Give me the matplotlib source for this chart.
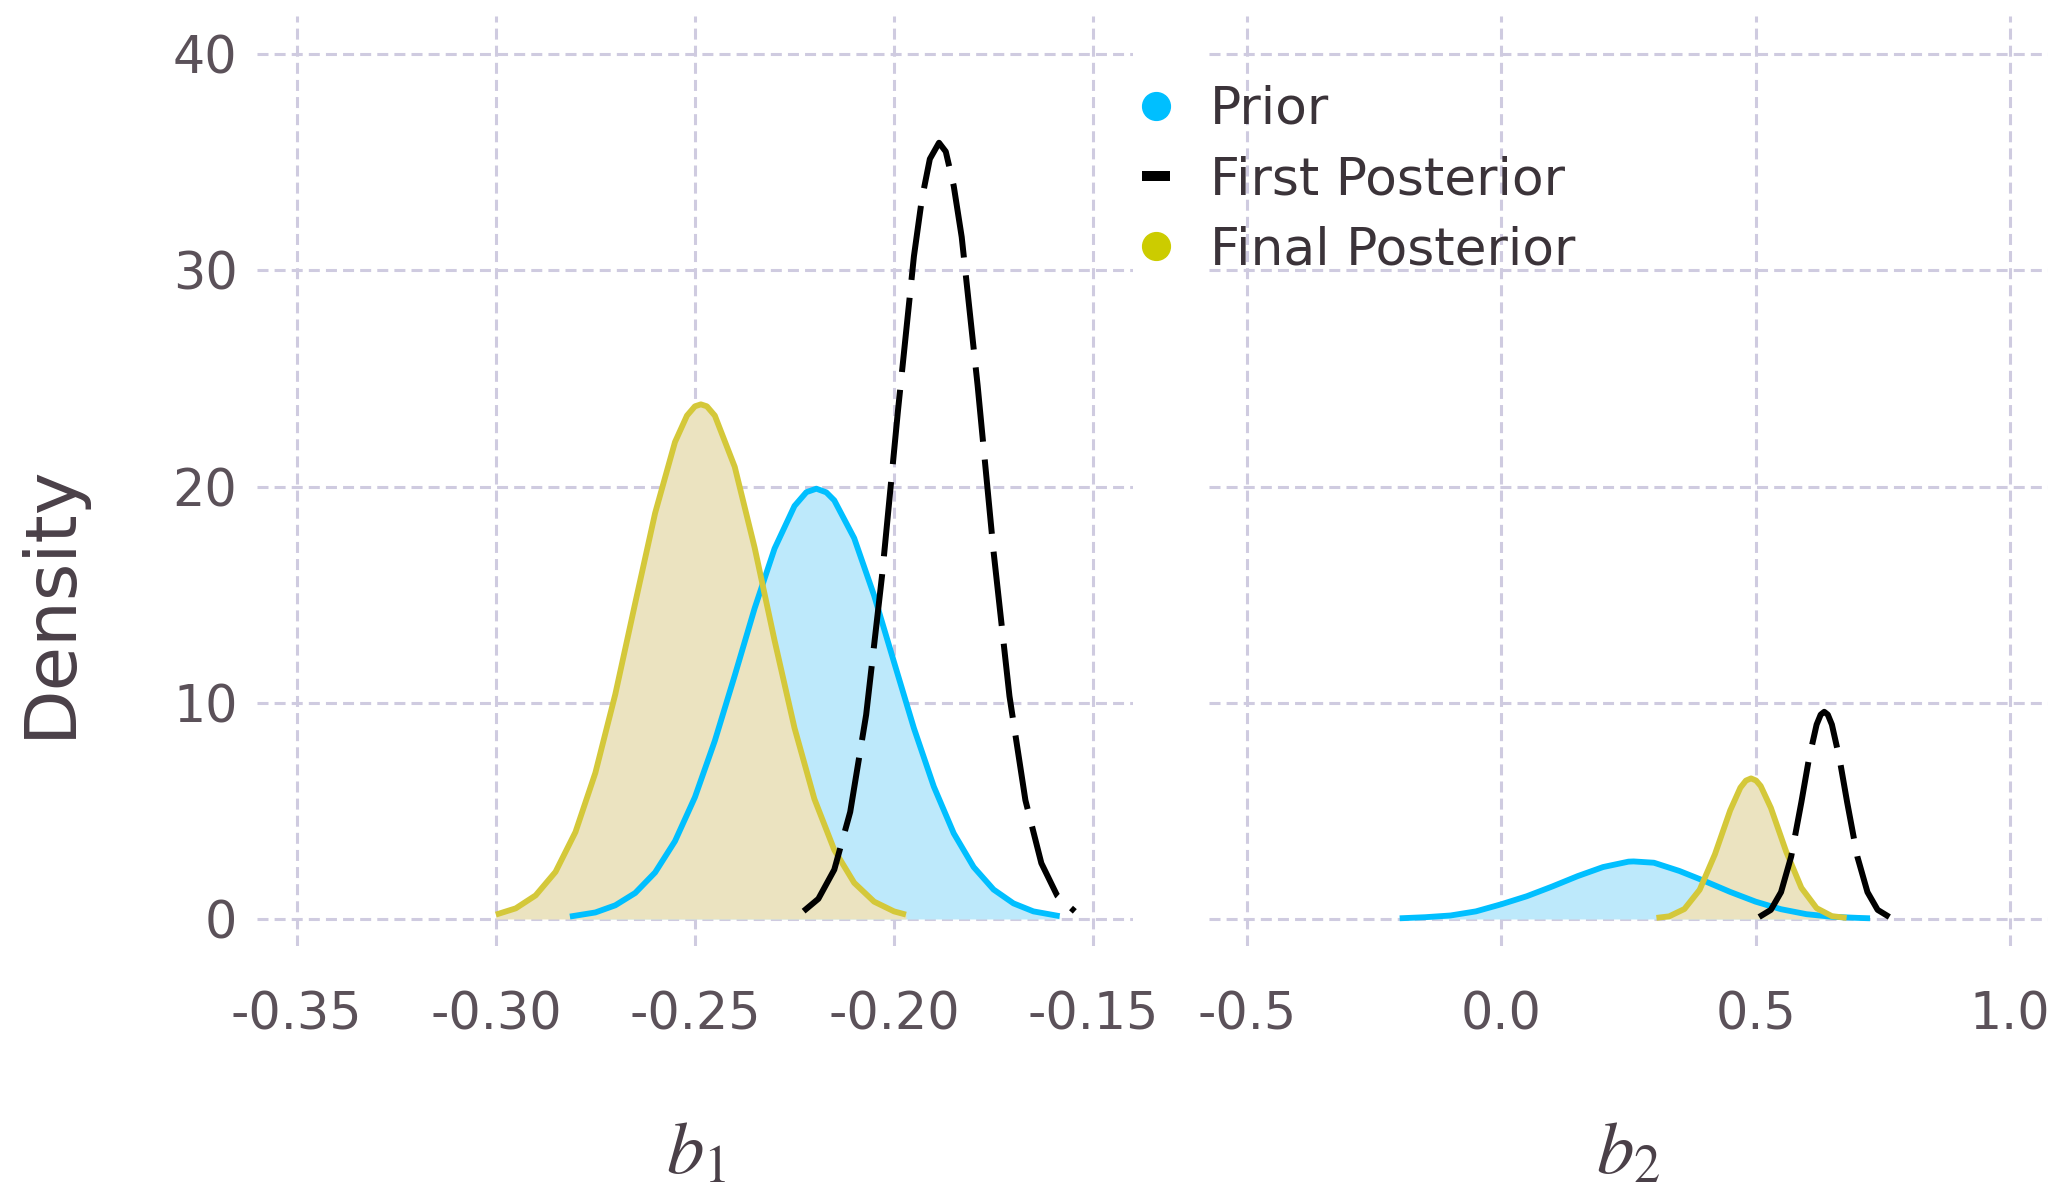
# coding=utf-8
import matplotlib
matplotlib.use("Agg")
import matplotlib.pyplot as plt
from matplotlib.lines import Line2D

# ---- data ----
# b1 panel
b1_prior_x = [-0.2814, -0.275, -0.27, -0.265, -0.26, -0.255, -0.25, -0.245, -0.24, -0.235, -0.23, -0.225,
              -0.222, -0.2195, -0.217, -0.215, -0.21, -0.205, -0.20, -0.195, -0.19, -0.185, -0.18, -0.175,
              -0.17, -0.165, -0.1584]
b1_prior_y = [0.11, 0.30, 0.63, 1.20, 2.15, 3.60, 5.63, 8.24, 11.26, 14.37, 17.13, 19.10,
              19.74, 19.90, 19.73, 19.36, 17.61, 14.96, 11.88, 8.82, 6.12, 3.96, 2.40, 1.36,
              0.72, 0.35, 0.13]

b1_first_x = [-0.2227, -0.219, -0.215, -0.211, -0.207, -0.203, -0.199, -0.195, -0.193, -0.191, -0.1887,
              -0.187, -0.185, -0.183, -0.179, -0.175, -0.171, -0.167, -0.163, -0.159, -0.1546]
b1_first_y = [0.36, 0.93, 2.28, 4.95, 9.44, 15.89, 23.52, 30.65, 33.30, 35.15, 35.90,
              35.49, 33.90, 31.54, 24.67, 16.99, 10.30, 5.49, 2.58, 1.07, 0.35]

b1_final_x = [-0.300, -0.295, -0.29, -0.285, -0.28, -0.275, -0.27, -0.265, -0.26, -0.255, -0.252, -0.25,
              -0.2485, -0.247, -0.245, -0.24, -0.235, -0.23, -0.225, -0.22, -0.215, -0.21, -0.205, -0.20, -0.197]
b1_final_y = [0.20, 0.49, 1.09, 2.18, 4.02, 6.76, 10.39, 14.61, 18.77, 22.06, 23.28, 23.71,
              23.80, 23.71, 23.28, 20.91, 17.17, 12.88, 8.84, 5.55, 3.19, 1.67, 0.80, 0.35, 0.20]

# b2 panel
b2_prior_x = [-0.20, -0.15, -0.10, -0.05, 0.00, 0.05, 0.10, 0.15, 0.20, 0.25, 0.26, 0.30, 0.35,
              0.40, 0.45, 0.50, 0.55, 0.60, 0.65, 0.70, 0.725]
b2_prior_y = [0.03, 0.08, 0.16, 0.35, 0.68, 1.05, 1.50, 1.98, 2.40, 2.65, 2.66, 2.60, 2.22,
              1.75, 1.25, 0.80, 0.45, 0.22, 0.10, 0.05, 0.03]

b2_first_x = [0.507, 0.53, 0.55, 0.57, 0.59, 0.605, 0.62, 0.628, 0.635, 0.642, 0.65, 0.665, 0.68,
              0.70, 0.72, 0.74, 0.763]
b2_first_y = [0.09, 0.42, 1.24, 2.89, 5.40, 7.42, 8.99, 9.45, 9.58, 9.45, 8.99, 7.42, 5.40,
              2.89, 1.24, 0.42, 0.09]

b2_final_x = [0.305, 0.33, 0.36, 0.39, 0.42, 0.45, 0.47, 0.481, 0.491, 0.501, 0.51, 0.53, 0.56,
              0.59, 0.62, 0.65, 0.679]
b2_final_y = [0.05, 0.12, 0.46, 1.35, 2.99, 5.02, 6.07, 6.40, 6.50, 6.40, 6.15, 5.14, 3.12,
              1.44, 0.50, 0.13, 0.05]

b1_ticks = [-0.35, -0.30, -0.25, -0.20, -0.15]
b1_labels = ["-0.35", "-0.30", "-0.25", "-0.20", "-0.15"]
b2_ticks = [-0.5, 0.0, 0.5, 1.0]
b2_labels = ["-0.5", "0.0", "0.5", "1.0"]
y_ticks = [0, 10, 20, 30, 40]
legend_labels = ["Prior", "First Posterior", "Final Posterior"]

# ---- style ----
plt.rcParams['font.family'] = ['DejaVu Sans']
plt.rcParams['axes.unicode_minus'] = False
plt.rcParams['mathtext.fontset'] = 'stix'

blue = '#00bfff'
blue_fill = '#bde9fb'
olive = '#d4c83a'
olive_fill = '#ebe3c0'
grid_col = '#cfcbe0'
tick_col = '#5b5159'

fig = plt.figure(figsize=(20.67, 11.89), dpi=100)
ax1 = fig.add_axes([0.1243, 0.2044, 0.4238, 0.7821])
ax2 = fig.add_axes([0.5849, 0.2044, 0.4059, 0.7821])

panels = [
    (ax1, b1_prior_x, b1_prior_y, b1_first_x, b1_first_y, b1_final_x, b1_final_y),
    (ax2, b2_prior_x, b2_prior_y, b2_first_x, b2_first_y, b2_final_x, b2_final_y),
]
for ax, px, py, fx, fy, lx, ly in panels:
    ax.fill_between(px, py, 0, color=blue_fill, lw=0, zorder=1)
    ax.fill_between(lx, ly, 0, color=olive_fill, lw=0, zorder=1.1)
    ax.plot(px, py, color=blue, lw=4.2, zorder=3, solid_capstyle='butt', solid_joinstyle='round')
    ax.plot(lx, ly, color=olive, lw=4.2, zorder=3, solid_capstyle='butt', solid_joinstyle='round')
    ax.plot(fx, fy, color='black', lw=4.3, ls=(0, (12.5, 3.0)), zorder=4)
    ax.set_ylim(-1.25, 41.76)
    ax.set_yticks(y_ticks)
    for s in ax.spines.values():
        s.set_visible(False)
    ax.set_axisbelow(True)
    ax.grid(True, color=grid_col, lw=2.2, ls=(0, (3.6, 2.0)))
    ax.tick_params(length=0, labelsize=36.5, labelcolor=tick_col)
    ax.tick_params(axis='x', pad=32)
    ax.tick_params(axis='y', pad=14)

ax1.set_xlim(-0.36, -0.14)
ax1.set_xticks(b1_ticks)
ax1.set_xticklabels(b1_labels)
ax2.set_xlim(-0.575, 1.075)
ax2.set_xticks(b2_ticks)
ax2.set_xticklabels(b2_labels)
ax2.tick_params(axis='y', labelleft=False)

fig.text(50 / 2067, 1 - 601 / 1189, "Density", rotation=90, ha='center', va='center',
         fontsize=52, color='#4a4048')
fig.text(696 / 2067, 1 - 1173 / 1189, "$b_1$", ha='center', va='baseline', fontsize=54, color='#4a4048')
fig.text(1628 / 2067, 1 - 1173 / 1189, "$b_2$", ha='center', va='baseline', fontsize=54, color='#4a4048')

handles = [
    Line2D([], [], marker='o', ls='none', color=blue, markersize=20),
    Line2D([], [], marker='_', ls='none', color='black', markersize=20, mew=7.2),
    Line2D([], [], marker='o', ls='none', color='#cccc00', markersize=20),
]
fig.legend(handles, legend_labels, loc='upper left', bbox_to_anchor=(1130 / 2067, 1 - 85 / 1189),
           frameon=False, fontsize=37.4, handlelength=1.0, handletextpad=0.54, labelspacing=0.39,
           borderpad=0, borderaxespad=0, labelcolor='#3b3339')

plt.savefig('out.png', dpi=100)
